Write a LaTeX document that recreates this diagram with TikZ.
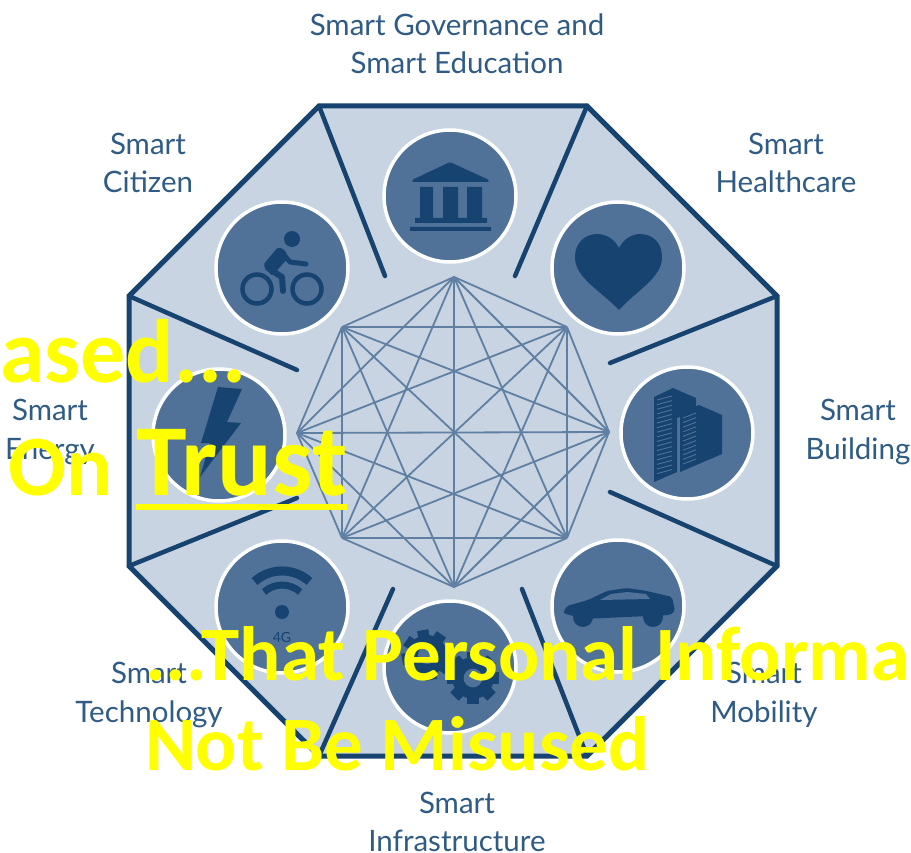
\documentclass[tikz,border=0pt]{standalone}
\usepackage{fontspec}
\setmainfont{Lato}
\newfontfamily\yellowfont{Carlito}
\definecolor{panel}{HTML}{C8D4E1}
\definecolor{disc}{HTML}{507298}
\definecolor{ink}{HTML}{164370}
\definecolor{web}{HTML}{5F7FA3}
\definecolor{labelink}{HTML}{2F5B85}
\definecolor{shout}{HTML}{FFFF00}
\newcommand{\gearshape}[3]{%
  \foreach \a in {0,45,...,315}{
    \fill[ink,rotate around={\a+#3:(#1)}] ($(#1)+(-0.22*#2,-1.0*#2)$) rectangle ($(#1)+(0.22*#2,1.0*#2)$);
  }
  \fill[ink] (#1) circle[radius=0.8*#2];
  \fill[disc] (#1) circle[radius=0.36*#2];
}
\usetikzlibrary{calc}
\tikzset{
  label/.style={text=labelink,align=center,font=\fontsize{29.5}{38.5}\selectfont},
  shouttext/.style={text=shout,anchor=base west,inner sep=0pt,font=\yellowfont\bfseries\fontsize{#1}{#1}\selectfont},
  icondisc/.style={circle,fill=disc,draw=white,line width=3.5pt,minimum size=132pt,inner sep=0pt},
  spoke/.style={draw=ink,line width=4.5pt,line cap=round},
  rim/.style={draw=ink,line width=5pt,fill=panel,line join=miter},
  webline/.style={draw=web,line width=1.8pt},
  iconfill/.style={fill=ink,draw=none}
}
\begin{document}
\begin{tikzpicture}[x=1pt,y=-1pt]
\useasboundingbox (0,0) rectangle (911,853);
\clip (0,0) rectangle (911,853);
% outer octagon
\coordinate (o1) at (319,106);
\coordinate (o2) at (587,106);
\coordinate (o3) at (777,296);
\coordinate (o4) at (777,566);
\coordinate (o5) at (587,756);
\coordinate (o6) at (319,756);
\coordinate (o7) at (129,566);
\coordinate (o8) at (129,296);
\draw[rim] (o1)--(o2)--(o3)--(o4)--(o5)--(o6)--(o7)--(o8)--cycle;
% spokes
\coordinate (s1) at (385,276);
\coordinate (s2) at (515,276);
\coordinate (s3) at (610,363);
\coordinate (s4) at (610,492);
\coordinate (s5) at (522,589);
\coordinate (s6) at (393,589);
\coordinate (s7) at (297,498);
\coordinate (s8) at (297,370);
\foreach \i in {1,...,8}{\draw[spoke] (o\i)--(s\i);}
% inner web
\coordinate (w1) at (454,277);
\coordinate (w2) at (567,327);
\coordinate (w3) at (609,432);
\coordinate (w4) at (567,538);
\coordinate (w5) at (454,587);
\coordinate (w6) at (342,538);
\coordinate (w7) at (297,433);
\coordinate (w8) at (342,327);
\foreach \i in {1,...,7}{
  \pgfmathtruncatemacro{\n}{\i+1}
  \foreach \j in {\n,...,8}{\draw[webline] (w\i)--(w\j);}
}
% discs
\node[icondisc] (govdisc) at (450,196) {};
\node[icondisc] (citdisc) at (282,268) {};
\node[icondisc] (headisc) at (618,268) {};
\node[icondisc] (enedisc) at (219,435) {};
\node[icondisc] (buidisc) at (687,433) {};
\node[icondisc] (tecdisc) at (282,607) {};
\node[icondisc] (mobdisc) at (618,606) {};
\node[icondisc] (infdisc) at (450,667) {};
% temple
\fill[iconfill,rounded corners=1.5pt] (450,162)--(489,180)--(489,182)--(412,182)--(412,180)--cycle;
\fill[iconfill] (420,187) rectangle (433,219) (443,187) rectangle (458,219) (467,187) rectangle (482,219);
\fill[iconfill] (415,218) rectangle (487,223) (410,227) rectangle (491,231);
% cyclist
\fill[iconfill] (292,239) circle[radius=8];
\draw[ink,line width=4.5pt] (257,289) circle[radius=14.5] (307,289) circle[radius=14.5];
\fill[iconfill,rounded corners=2pt] (263,265)--(278,247)--(285,250)--(288,258)--(272,276)--cycle;
\draw[ink,line width=6pt,line cap=round,line join=round] (268,268)--(282,277)--(283,291);
\draw[ink,line width=5pt,line cap=round,line join=round] (283,254)--(290,262)--(306,264);
% bolt
\fill[iconfill] (218,387)--(242,389)--(227,422)--(241,423)--(200,477)--(210,443)--(201,443)--cycle;
% wifi
\fill[iconfill] (282,612) circle[radius=7];
\draw[ink,line width=9pt] (254.6,581.5) arc[start angle=-132,end angle=-48,radius=41];
\draw[ink,line width=7pt] (264,592) arc[start angle=-132,end angle=-48,radius=27];
\node[text=ink,font=\fontsize{14}{14}\selectfont,inner sep=0pt] (fourg) at (282,637) {4G};
% gears
\gearshape{427,655}{25}{10}
\gearshape{473,678}{26}{0}
% car
\fill[iconfill,rounded corners=2pt] (563,613)--(567,606)--(588,600)--(607,591)--(627,588)--(647,591)--(672,597)--(675,611)--(670,615)--(583,619)--cycle;
\fill[iconfill] (583,617) circle[radius=10] (653,617) circle[radius=10];
\fill[disc] (600,600)--(611,594)--(627,592)--(646,594)--(650,599)--cycle;
% heart
\fill[iconfill] (619,310) .. controls (600,290) and (575,278) .. (575,257) .. controls (575,242) and (586,234) .. (597,234) .. controls (607,234) and (615,240) .. (619,248) .. controls (623,240) and (631,234) .. (640,234) .. controls (652,234) and (662,242) .. (662,257) .. controls (662,278) and (637,290) .. (619,310) -- cycle;
% buildings
\fill[iconfill] (654,397)--(673,388)--(696,398)--(696,410)--(677,418)--(677,472)--(654,482)--cycle;
\fill[iconfill] (680,413)--(699,405)--(722,415)--(722,454)--(680,472)--cycle;
\foreach \k in {0,...,16}{
  \draw[disc,line width=0.9pt] (657,{400+\k*4.6})--(672,{396+\k*4.6});
}
\foreach \k in {0,...,10}{
  \draw[disc,line width=0.9pt] (683,{418+\k*4.6})--(696,{413+\k*4.6});
}
% labels
\node[label] (gov) at (457,44) {Smart Governance and\\Smart Education};
\node[label] (cit) at (148,163) {Smart\\Citizen};
\node[label] (hea) at (786,163) {Smart\\Healthcare};
\node[label] (bui) at (858,432) {Smart\\Building};
\node[label] (ene) at (50,432) {Smart\\Energy};
\node[label] (tec) at (149,695) {Smart\\Technology};
\node[label] (mob) at (764,695) {Smart\\Mobility};
\node[label] (inf) at (457,822) {Smart\\Infrastructure};
% overlaid text
\node[shouttext=90] (based) at (0,382) {ased...};
\node[shouttext=86] (on) at (8,495) {On};
\node[shouttext=102] (trust) at (136,495) {Trust};
\coordinate (ula) at (136,507);
\coordinate (ulb) at (347,507);
\draw[shout,line width=6pt] (ula)--(ulb);
\node[shouttext=77] (that) at (145,680) {...That Personal Informa};
\node[shouttext=77] (notbe) at (145,770) {Not Be Misused};
\end{tikzpicture}
\end{document}
